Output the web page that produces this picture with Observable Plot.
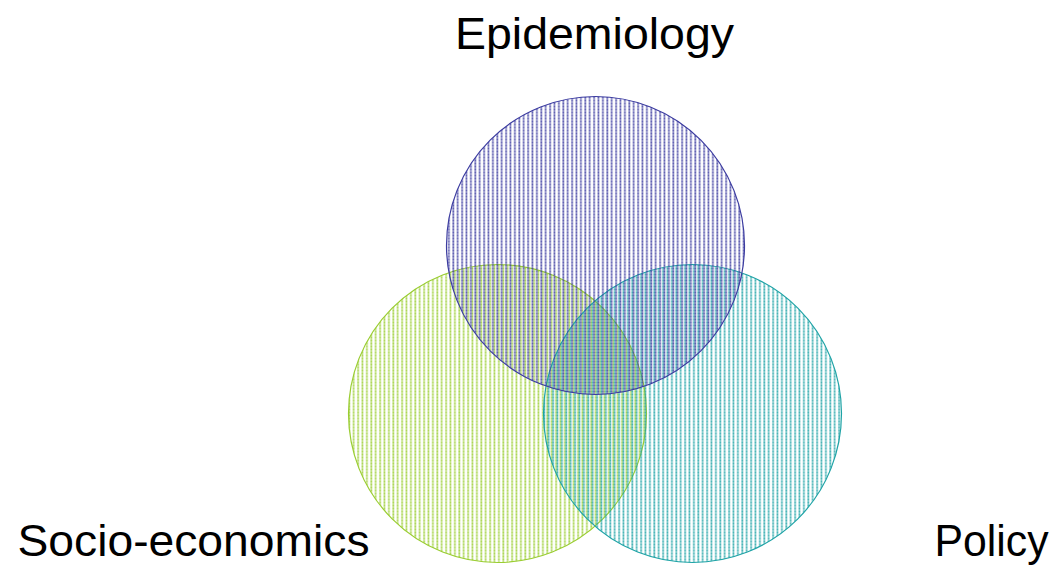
<!DOCTYPE html>
<html>
<head>
<meta charset="utf-8">
<script src="https://cdn.jsdelivr.net/npm/d3@7"></script>
<script src="https://cdn.jsdelivr.net/npm/@observablehq/plot@0.6"></script>
<style>
  html, body { margin: 0; padding: 0; background: #fff; }
  #chart svg { display: block; }
</style>
</head>
<body>
<div id="chart"></div>
<script>
// Venn sets (circle layout, in chart units)
const sets = ["Socio-economics", "Policy", "Epidemiology"];
const centerX = [497, 692, 595];
const centerY = [413, 413, 245];
const radius = [149, 149, 149];
const colors = ["#9ACD32", "#1FA3A6", "#3C3CA0"];

// Labels
const labels = ["Epidemiology", "Socio-economics", "Policy"];
const labelX = [594, 193, 991];
const labelY = [48, 555, 555];
const labelLen = [279, 352, 114];

const circles = sets.map((s, i) => ({set: s, x: centerX[i], y: centerY[i], r: radius[i], color: colors[i], id: "hatch" + i}));
const texts = labels.map((t, i) => ({text: t, x: labelX[i], y: labelY[i], len: labelLen[i]}));

const W = 1061, H = 566;
const plot = Plot.plot({
  width: W, height: H,
  margin: 0,
  x: {domain: [0, W], axis: null},
  y: {domain: [H, 0], axis: null},
  style: {background: "#fff"},
  marks: [
    Plot.dot(circles, {
      x: "x", y: "y", r: d => d.r,
      fill: d => `url(#${d.id})`,
      stroke: d => d.color,
      strokeWidth: 1.2,
      fillOpacity: 0.85
    }),
    Plot.text(texts, {
      x: "x", y: "y", text: "text",
      fontSize: 44, fill: "#000",
      textAnchor: "middle", lineAnchor: "bottom",
      fontFamily: "Liberation Sans, Arial, Helvetica, sans-serif"
    })
  ]
});

const svg = d3.select(plot);
const defs = svg.insert("defs", ":first-child");
circles.forEach((c, i) => {
  const p = defs.append("pattern")
    .attr("id", c.id)
    .attr("patternUnits", "userSpaceOnUse")
    .attr("width", 4.4).attr("height", 3)
    .attr("x", i * 1.4);
  p.append("line")
    .attr("x1", 1.2).attr("x2", 1.2).attr("y1", 0).attr("y2", 3)
    .attr("stroke", c.color).attr("stroke-width", 1.7)
    .attr("stroke-dasharray", "2 1");
  p.append("line")
    .attr("x1", 1.2).attr("x2", 1.2).attr("y1", 2).attr("y2", 3)
    .attr("stroke", c.color).attr("stroke-opacity", 0.5).attr("stroke-width", 1.7);
});
svg.selectAll("circle").each(function(d, i) {
  d3.select(this).attr("r", circles[i].r);
});
svg.selectAll("text").each(function(d, i) {
  d3.select(this).attr("textLength", texts[i].len).attr("lengthAdjust", "spacingAndGlyphs");
});
document.getElementById("chart").appendChild(plot);
</script>
</body>
</html>
